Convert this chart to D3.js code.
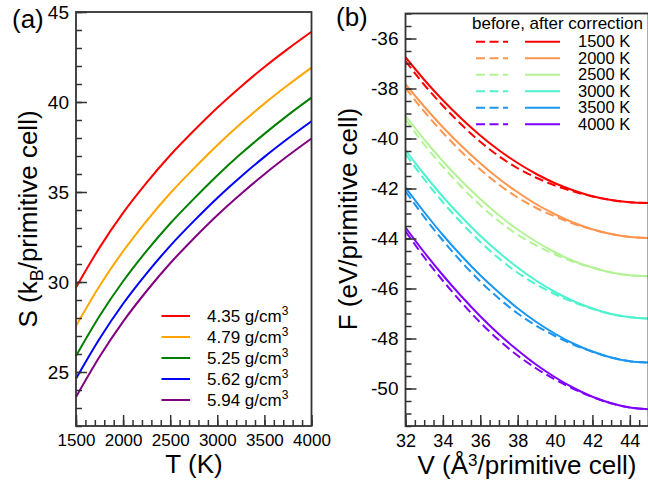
<!DOCTYPE html>
<html>
<head>
<meta charset="utf-8">
<script src="https://cdn.jsdelivr.net/npm/d3@7"></script>
<style>
	body { margin: 0; background: #fff; }
	svg { display: block; font-family: 'Liberation Sans', Arial, sans-serif; }
	.axis text { fill: #000; }
	.axis line { stroke: #333; stroke-width: 1.5; }
	.axis path { display: none; }
</style>
</head>
<body>
<div id="chart"></div>
<script>
// ---- panel (a) data: entropy vs temperature ----
var tempsA = [1500, 1750, 2000, 2250, 2500, 2750, 3000, 3250, 3500, 3750, 4000];
var densityLabels = ['4.35', '4.79', '5.25', '5.62', '5.94'];
var densityColors = ['#ff0000', '#ffa500', '#008000', '#0000ff', '#800080'];
var s435 = [29.70, 31.91, 33.84, 35.52, 37.04, 38.40, 39.68, 40.85, 41.94, 42.95, 43.90];
var s479 = [27.56, 29.78, 31.71, 33.40, 34.93, 36.30, 37.60, 38.80, 39.91, 40.94, 41.91];
var s525 = [25.89, 28.11, 30.04, 31.73, 33.25, 34.62, 35.92, 37.12, 38.23, 39.27, 40.24];
var s562 = [24.63, 26.85, 28.79, 30.48, 32.01, 33.38, 34.67, 35.85, 36.95, 37.97, 38.93];
var s594 = [23.61, 25.85, 27.80, 29.50, 31.04, 32.42, 33.71, 34.89, 35.99, 37.01, 37.97];
var xTicksA = [1500, 2000, 2500, 3000, 3500, 4000];
var yTicksA = [25, 30, 35, 40, 45];

// ---- panel (b) data: free energy vs volume ----
var volumes = [32, 33, 34, 35, 36, 37, 38, 39, 40, 41, 42, 43, 44, 45];
var tempLabels = ['1500 K', '2000 K', '2500 K', '3000 K', '3500 K', '4000 K'];
var tempColors = ['#ff0000', '#ff964f', '#b3f396', '#4df3ce', '#1a96f3', '#8000ff'];
var after1500 = [-36.75, -37.65, -38.47, -39.21, -39.88, -40.47, -40.98, -41.42, -41.79, -42.08, -42.31, -42.46, -42.55, -42.58];
var before1500 = [-36.90, -37.85, -38.69, -39.45, -40.13, -40.71, -41.19, -41.57, -41.88, -42.12, -42.32, -42.46, -42.55, -42.58];
var after2000 = [-37.83, -38.72, -39.55, -40.30, -40.99, -41.61, -42.15, -42.63, -43.03, -43.37, -43.63, -43.82, -43.94, -43.98];
var before2000 = [-37.98, -38.92, -39.77, -40.54, -41.24, -41.85, -42.36, -42.78, -43.12, -43.41, -43.64, -43.82, -43.94, -43.98];
var after2500 = [-39.09, -40.04, -40.91, -41.70, -42.42, -43.07, -43.64, -44.13, -44.55, -44.90, -45.16, -45.36, -45.47, -45.51];
var before2500 = [-39.24, -40.24, -41.13, -41.94, -42.67, -43.31, -43.85, -44.28, -44.64, -44.94, -45.17, -45.36, -45.47, -45.51];
var after3000 = [-40.47, -41.43, -42.33, -43.14, -43.89, -44.56, -45.16, -45.69, -46.14, -46.51, -46.80, -47.02, -47.15, -47.20];
var before3000 = [-40.62, -41.63, -42.55, -43.38, -44.14, -44.80, -45.37, -45.84, -46.23, -46.55, -46.81, -47.02, -47.15, -47.20];
var after3500 = [-41.96, -42.94, -43.86, -44.70, -45.47, -46.16, -46.79, -47.34, -47.81, -48.21, -48.52, -48.76, -48.91, -48.96];
var before3500 = [-42.11, -43.14, -44.08, -44.94, -45.72, -46.40, -47.00, -47.49, -47.90, -48.25, -48.53, -48.76, -48.91, -48.96];
var after4000 = [-43.56, -44.55, -45.47, -46.32, -47.11, -47.83, -48.47, -49.05, -49.55, -49.98, -50.33, -50.59, -50.76, -50.83];
var before4000 = [-43.71, -44.75, -45.69, -46.56, -47.36, -48.07, -48.68, -49.20, -49.64, -50.02, -50.34, -50.59, -50.76, -50.83];
var xTicksB = [32, 34, 36, 38, 40, 42, 44];
var yTicksB = [-36, -38, -40, -42, -44, -46, -48, -50];

var svg = d3.select('#chart').append('svg').attr('width', 648).attr('height', 492);
svg.append('rect').attr('width', 648).attr('height', 492).attr('fill', '#fff');

// plain hyphen for negatives, like the original plot
var fmt = (d) => String(d);

// Draw the inward major + minor ticks and the box for one panel
function drawFrame(x, y, xMajor, xMinor, yMajor, yMinor, xFont, yFont) {
	var left = x.range()[0], right = x.range()[1];
	var top = y.range()[1], bottom = y.range()[0];

	svg.append('g').attr('class', 'axis').attr('transform', `translate(0, ${bottom})`)
		.call(d3.axisBottom(x).tickValues(xMinor).tickSize(-6).tickSizeOuter(0).tickFormat(''));
	svg.append('g').attr('class', 'axis').attr('transform', `translate(0, ${bottom})`)
		.call(d3.axisBottom(x).tickValues(xMajor).tickSize(-11).tickSizeOuter(0).tickPadding(8).tickFormat(fmt))
		.selectAll('text').attr('font-size', xFont);

	svg.append('g').attr('class', 'axis').attr('transform', `translate(${left}, 0)`)
		.call(d3.axisLeft(y).tickValues(yMinor).tickSize(-6).tickSizeOuter(0).tickFormat(''));
	svg.append('g').attr('class', 'axis').attr('transform', `translate(${left}, 0)`)
		.call(d3.axisLeft(y).tickValues(yMajor).tickSize(-11).tickSizeOuter(0).tickPadding(7).tickFormat(fmt))
		.selectAll('text').attr('font-size', yFont);

	svg.append('rect')
		.attr('x', left).attr('y', top)
		.attr('width', right - left).attr('height', bottom - top)
		.attr('fill', 'none').attr('stroke', '#333').attr('stroke-width', 1.8);
}

// ================= panel (a) =================
var xA = d3.scaleLinear().domain([1500, 4000]).range([76, 311.5]);
var yA = d3.scaleLinear().domain([22, 45]).range([426, 12]);

var seriesA = [s435, s479, s525, s562, s594];
var lineA = d3.line().x((d, i) => xA(tempsA[i])).y((d) => yA(d)).curve(d3.curveMonotoneX);

svg.append('g').selectAll('path').data(seriesA).enter().append('path')
	.attr('d', lineA)
	.attr('fill', 'none')
	.attr('stroke', (d, i) => densityColors[i])
	.attr('stroke-width', 2);

drawFrame(xA, yA, xTicksA, d3.range(1500, 4001, 100), yTicksA, d3.range(22, 46, 1), 17, 19);

// legend (a)
var legA = svg.append('g');
densityLabels.forEach(function(lab, i) {
	var ly = 316 + i * 21;
	legA.append('line').attr('x1', 161.5).attr('x2', 190).attr('y1', ly).attr('y2', ly)
		.attr('stroke', densityColors[i]).attr('stroke-width', 2);
	var t = legA.append('text').attr('x', 207).attr('y', ly + 6).attr('font-size', 17);
	t.append('tspan').text(lab + ' g/cm');
	t.append('tspan').attr('font-size', 12).attr('dy', -7).text('3');
});

// axis titles (a)
svg.append('text').attr('x', 194).attr('y', 473).attr('text-anchor', 'middle')
	.attr('font-size', 26).text('T (K)');
var sTitle = svg.append('text').attr('transform', 'translate(37, 219) rotate(-90)')
	.attr('text-anchor', 'middle').attr('font-size', 26);
sTitle.append('tspan').text('S (k');
sTitle.append('tspan').attr('font-size', 18).attr('dy', 6).text('B');
sTitle.append('tspan').attr('dy', -6).text('/primitive cell)');
svg.append('text').attr('x', 12).attr('y', 28).attr('font-size', 26).text('(a)');

// ================= panel (b) =================
var xB = d3.scaleLinear().domain([32, 45]).range([405.5, 648.5]);
var yB = d3.scaleLinear().domain([-51.5, -35]).range([426, 13.5]);

var afterB = [after1500, after2000, after2500, after3000, after3500, after4000];
var beforeB = [before1500, before2000, before2500, before3000, before3500, before4000];
var lineB = d3.line().x((d, i) => xB(volumes[i])).y((d) => yB(d)).curve(d3.curveMonotoneX);

svg.append('clipPath').attr('id', 'clipB').append('rect')
	.attr('x', 405.5).attr('y', 13.5).attr('width', 243).attr('height', 412.5);
var plotB = svg.append('g').attr('clip-path', 'url(#clipB)');

plotB.selectAll('.before').data(beforeB).enter().append('path')
	.attr('class', 'before')
	.attr('d', lineB)
	.attr('fill', 'none')
	.attr('stroke', (d, i) => tempColors[i])
	.attr('stroke-width', 2)
	.attr('stroke-dasharray', '9,4.5');

plotB.selectAll('.after').data(afterB).enter().append('path')
	.attr('class', 'after')
	.attr('d', lineB)
	.attr('fill', 'none')
	.attr('stroke', (d, i) => tempColors[i])
	.attr('stroke-width', 2);

drawFrame(xB, yB, xTicksB, d3.range(32, 45.01, 0.5), yTicksB, d3.range(-51.5, -34.99, 0.5), 18, 19);

// legend (b)
var legB = svg.append('g');
legB.append('text').attr('x', 643).attr('y', 29).attr('text-anchor', 'end')
	.attr('font-size', 17).text('before, after correction');
tempLabels.forEach(function(lab, i) {
	var ly = 41.7 + i * 16.5;
	legB.append('line').attr('x1', 476).attr('x2', 508).attr('y1', ly).attr('y2', ly)
		.attr('stroke', tempColors[i]).attr('stroke-width', 2).attr('stroke-dasharray', '9,4.5');
	legB.append('line').attr('x1', 525).attr('x2', 560).attr('y1', ly).attr('y2', ly)
		.attr('stroke', tempColors[i]).attr('stroke-width', 2);
	legB.append('text').attr('x', 578).attr('y', ly + 5.5).attr('font-size', 16.5).text(lab);
});

// axis titles (b)
var vTitle = svg.append('text').attr('x', 527).attr('y', 474).attr('text-anchor', 'middle')
	.attr('font-size', 26);
vTitle.append('tspan').text('V (Å');
vTitle.append('tspan').attr('font-size', 17).attr('dy', -8).text('3');
vTitle.append('tspan').attr('dy', 8).text('/primitive cell)');
svg.append('text').attr('transform', 'translate(357, 219) rotate(-90)')
	.attr('text-anchor', 'middle').attr('font-size', 26).text('F (eV/primitive cell)');
svg.append('text').attr('x', 336).attr('y', 26).attr('font-size', 26).text('(b)');
</script>
</body>
</html>
